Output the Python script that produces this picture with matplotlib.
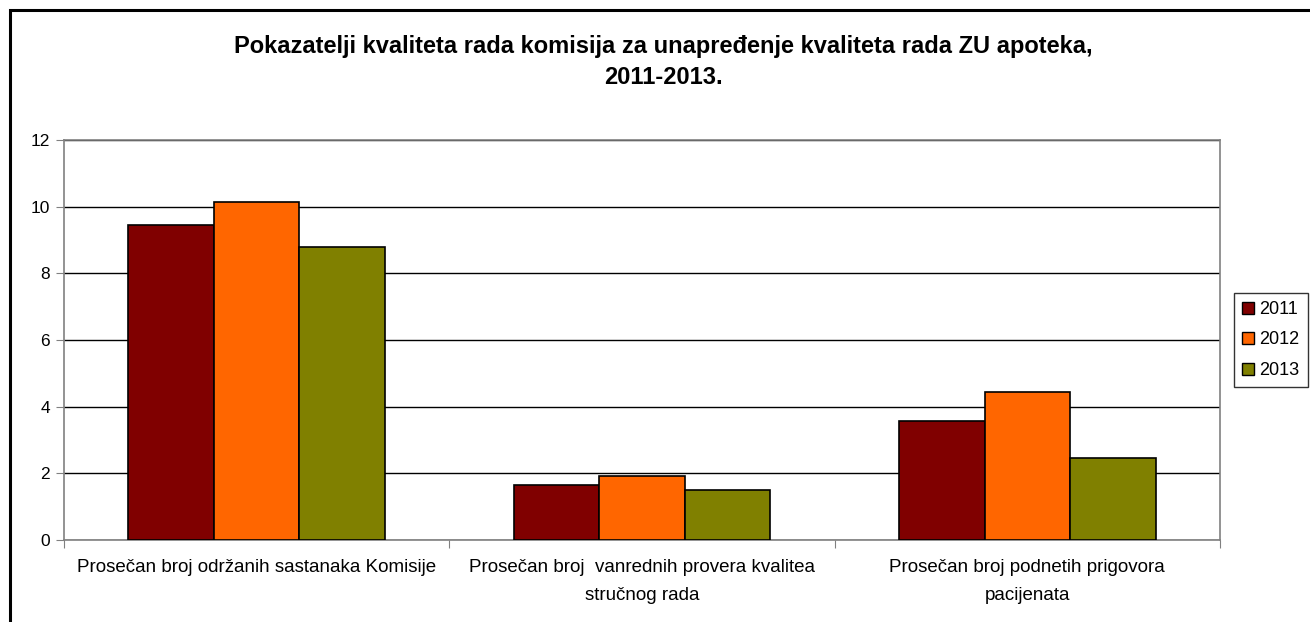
import numpy as np
import matplotlib
matplotlib.use("Agg")
import matplotlib.pyplot as plt
from matplotlib.patches import Rectangle, Patch

categories = [
    "Prosečan broj održanih sastanaka Komisije",
    "Prosečan broj  vanrednih provera kvalitea\nstručnog rada",
    "Prosečan broj podnetih prigovora\npacijenata",
]
years = ["2011", "2012", "2013"]
values_2011 = [9.44, 1.66, 3.58]
values_2012 = [10.15, 1.92, 4.44]
values_2013 = [8.80, 1.51, 2.45]
colors = ["#800000", "#FF6600", "#808000"]
title = "Pokazatelji kvaliteta rada komisija za unapređenje kvaliteta rada ZU apoteka,\n2011-2013."
yticks = [0, 2, 4, 6, 8, 10, 12]

W, H = 1310, 622
fig = plt.figure(figsize=(W / 100, H / 100), dpi=100)
plt.rcParams['font.family'] = ['Liberation Sans', 'DejaVu Sans']

# outer frame (extends beyond right and bottom edges)
fig.patches.append(Rectangle((10 / W, -0.1), 1.2, (H - 10) / H + 0.1, transform=fig.transFigure,
                             fill=False, edgecolor='black', linewidth=2.2))

ax = fig.add_axes([64 / W, (H - 540) / H, (1220 - 64) / W, 400 / H])
series = [values_2011, values_2012, values_2013]
x = np.arange(len(categories))
bw = 1 / 4.5
for i, (vals, c, lab) in enumerate(zip(series, colors, years)):
    ax.bar(x + (i - 1) * bw, vals, width=bw, color=c, edgecolor='black', linewidth=1.2,
           label=lab, zorder=3)

ax.set_xlim(-0.5, 2.5)
ax.set_ylim(0, 12)
ax.set_yticks(yticks)
ax.set_yticklabels([str(v) for v in yticks], fontsize=12.5)
ax.yaxis.grid(True, color='black', linewidth=1)
ax.set_axisbelow(True)
ax.set_xticks([-0.5, 0.5, 1.5, 2.5])
ax.set_xticklabels([])
ax.set_xticks(x, minor=True)
ax.set_xticklabels(categories, minor=True, fontsize=13.5, linespacing=1.85)
ax.tick_params(axis='x', which='minor', length=0, pad=14)
ax.tick_params(axis='x', which='major', length=6, color='#808080', direction='out')
ax.tick_params(axis='y', length=6, color='#808080', direction='out', pad=4)
for s in ax.spines.values():
    s.set_color('#808080')
    s.set_linewidth(1.2)

fig.text(663 / W, 1 - 62 / H, title, ha='center', va='center', fontsize=17, fontweight='bold',
         linespacing=1.5)

handles = [Patch(facecolor=c, edgecolor='black', label=l) for c, l in zip(colors, years)]
leg = fig.legend(handles=handles, loc='center', bbox_to_anchor=(1271 / W, 1 - 340 / H),
                 fontsize=13, frameon=True, fancybox=False, handlelength=0.65, handleheight=0.65,
                 handletextpad=0.3, borderpad=0.45, labelspacing=0.75, borderaxespad=0)
leg.get_frame().set_edgecolor('black')
leg.get_frame().set_linewidth(1)

fig.savefig("out.png", dpi=100)
